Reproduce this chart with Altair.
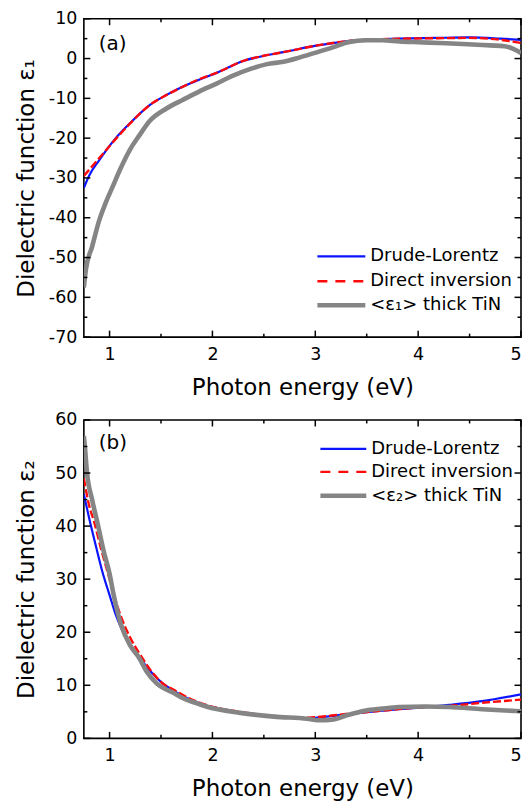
import altair as alt
import pandas as pd

# ---------------- data ----------------
# Panel (a): real part epsilon_1
a_dl_E = [0.75, 0.80, 0.90, 0.96, 1.05, 1.20, 1.39, 1.55, 1.71, 1.87, 2.04, 2.30, 2.50, 2.69, 3.02, 3.32, 3.60, 3.82, 4.20, 4.50, 4.80, 5.00]
a_dl_v = [-32.5, -29.5, -25.5, -23.3, -20.3, -16.2, -11.7, -9.2, -7.1, -5.3, -3.6, -0.6, 0.7, 1.6, 3.3, 4.4, 4.8, 5.0, 5.2, 5.3, 5.0, 4.7]
a_di_E = [0.75, 0.85, 0.95, 1.05, 1.20, 1.39, 1.55, 1.71, 1.87, 2.04, 2.30, 2.50, 2.69, 3.02, 3.32, 3.60, 3.82, 4.20, 4.48, 4.80, 5.00]
a_di_v = [-29.5, -26.5, -23.5, -20.5, -16.3, -11.7, -9.2, -7.1, -5.2, -3.6, -0.6, 0.7, 1.6, 3.3, 4.4, 4.8, 5.0, 5.1, 5.2, 4.7, 3.9]
a_tn_E = [0.75, 0.77, 0.83, 0.90, 0.96, 1.03, 1.10, 1.20, 1.29, 1.39, 1.55, 1.71, 1.87, 2.04, 2.20, 2.37, 2.53, 2.69, 2.85, 3.02, 3.17, 3.32, 3.50, 3.65, 3.82, 4.00, 4.20, 4.48, 4.70, 4.84, 4.92, 5.00]
a_tn_v = [-57.5, -53.0, -47.3, -40.6, -36.4, -32.2, -28.0, -22.8, -19.3, -15.7, -12.6, -10.4, -8.3, -6.3, -4.3, -2.6, -1.4, -0.8, 0.3, 1.6, 2.8, 4.1, 4.6, 4.6, 4.3, 4.1, 3.9, 3.6, 3.3, 3.1, 2.5, 1.4]

# Panel (b): imaginary part epsilon_2
b_dl_E = [0.75, 0.80, 0.87, 0.93, 1.00, 1.06, 1.12, 1.20, 1.30, 1.40, 1.52, 1.62, 1.80, 1.94, 2.20, 2.50, 2.75, 2.92, 3.16, 3.30, 3.48, 3.81, 4.07, 4.30, 4.62, 5.00]
b_dl_v = [46.0, 41.6, 36.0, 31.4, 27.0, 23.3, 20.5, 17.8, 15.0, 12.6, 10.3, 9.0, 7.2, 6.2, 5.1, 4.3, 3.9, 3.8, 4.2, 4.5, 4.9, 5.5, 5.9, 6.3, 7.0, 8.3]
b_di_E = [0.75, 0.80, 0.85, 0.92, 0.98, 1.05, 1.12, 1.20, 1.29, 1.40, 1.52, 1.62, 1.80, 1.94, 2.20, 2.50, 2.75, 2.92, 3.16, 3.30, 3.48, 3.81, 4.07, 4.30, 4.62, 5.00]
b_di_v = [49.0, 44.0, 40.8, 35.5, 31.4, 26.5, 22.5, 19.0, 16.0, 12.8, 10.3, 9.2, 7.3, 6.3, 5.2, 4.4, 4.0, 3.9, 4.3, 4.6, 4.9, 5.5, 5.9, 6.1, 6.7, 7.3]
b_tn_E = [0.75, 0.76, 0.78, 0.83, 0.88, 0.94, 1.00, 1.04, 1.11, 1.20, 1.29, 1.36, 1.46, 1.62, 1.71, 1.85, 1.94, 2.27, 2.60, 2.92, 3.05, 3.16, 3.30, 3.48, 3.65, 3.81, 4.07, 4.30, 4.62, 4.80, 5.00]
b_tn_v = [57.0, 55.0, 50.2, 45.0, 40.8, 35.5, 31.0, 27.0, 21.5, 17.5, 15.1, 12.6, 10.3, 8.6, 7.6, 6.6, 6.0, 4.8, 4.1, 3.7, 3.4, 3.5, 4.3, 5.2, 5.6, 5.9, 6.0, 5.9, 5.5, 5.3, 5.1]

# tick values / labels
x_major = [1, 2, 3, 4, 5]
x_minor = [1.5, 2.5, 3.5, 4.5]
a_y_major = [-70, -60, -50, -40, -30, -20, -10, 0, 10]
a_y_minor = [-65, -55, -45, -35, -25, -15, -5, 5]
b_y_major = [0, 10, 20, 30, 40, 50, 60]
b_y_minor = [5, 15, 25, 35, 45, 55]

a_legend_labels = ["Drude-Lorentz", "Direct inversion", "<ε₁> thick TiN"]
b_legend_labels = ["Drude-Lorentz", "Direct inversion", "<ε₂> thick TiN"]

# ---------------- styling ----------------
FONT = "DejaVu Sans"
W, H = 438, 319
BLUE, RED, GRAY = "#0a14ff", "#ff0a0a", "#858585"
XS = alt.Scale(domain=[0.75, 5], nice=False, zero=False)
MAJ, MIN = 6.5, 3.5

X_AXIS = alt.Axis(values=x_major, title="Photon energy (eV)", labelPadding=8, titlePadding=14)


def y_axis(vals, title):
    return alt.Axis(values=vals, title=title, labelPadding=7, minExtent=36, maxExtent=36,
                    titlePadding=9, labelExpr="replace(datum.label, '\u2212', '-')")


def tick_layers(ys, yax, y_major, y_minor):
    out = []
    for vals, L in [(x_major, MAJ), (x_minor, MIN)]:
        base = alt.Chart(pd.DataFrame({"E": vals})).mark_rule(color="black", strokeWidth=1.5)
        out.append(base.encode(x=alt.X("E:Q", scale=XS, axis=X_AXIS), y=alt.value(H), y2=alt.value(H - L)))
        out.append(base.encode(x=alt.X("E:Q", scale=XS, axis=X_AXIS), y=alt.value(0), y2=alt.value(L)))
    for vals, L in [(y_major, MAJ), (y_minor, MIN)]:
        base = alt.Chart(pd.DataFrame({"v": vals})).mark_rule(color="black", strokeWidth=1.5)
        out.append(base.encode(y=alt.Y("v:Q", scale=ys, axis=yax), x=alt.value(0), x2=alt.value(L)))
        out.append(base.encode(y=alt.Y("v:Q", scale=ys, axis=yax), x=alt.value(W), x2=alt.value(W - L)))
    return out


def panel(series, ydom, y_major, y_minor, ytitle, tag, tag_y, legend_labels, leg_x0, leg_x1, leg_xt, leg_ys):
    ys = alt.Scale(domain=ydom, nice=False, zero=False)
    yax = y_axis(y_major, ytitle)
    styles = [(BLUE, 2.2, None), (RED, 2.4, [8, 3]), (GRAY, 4.6, None)]
    layers = []
    for (E, v), (col, sw, dash) in zip(series, styles):
        mk = dict(color=col, strokeWidth=sw, clip=True, interpolate="monotone")
        if dash:
            mk["strokeDash"] = dash
        layers.append(
            alt.Chart(pd.DataFrame({"E": E, "v": v})).mark_line(**mk)
            .encode(x=alt.X("E:Q", scale=XS, axis=X_AXIS), y=alt.Y("v:Q", scale=ys, axis=yax))
        )

    layers += tick_layers(ys, yax, y_major, y_minor)

    layers.append(
        alt.Chart(pd.DataFrame({"t": [tag]}))
        .mark_text(font=FONT, fontSize=20, align="left", baseline="middle", color="black")
        .encode(x=alt.value(15), y=alt.value(tag_y), text="t:N")
    )

    leg_styles = [(BLUE, 2.2, None), (RED, 2.4, [10, 8]), (GRAY, 4.6, None)]
    for lab, (col, sw, dash), yy in zip(legend_labels, leg_styles, leg_ys):
        mk = dict(color=col, strokeWidth=sw)
        if dash:
            mk["strokeDash"] = dash
        d = pd.DataFrame({"s": [lab]})
        layers.append(alt.Chart(d).mark_rule(**mk).encode(x=alt.value(leg_x0), x2=alt.value(leg_x1), y=alt.value(yy)))
        layers.append(alt.Chart(d).mark_text(font=FONT, fontSize=18, align="left", baseline="middle", color="black")
                      .encode(x=alt.value(leg_xt), y=alt.value(yy), text="s:N"))

    return alt.layer(*layers).properties(width=W, height=H)


pa = panel([(a_dl_E, a_dl_v), (a_di_E, a_di_v), (a_tn_E, a_tn_v)], [-70, 10], a_y_major, a_y_minor,
           "Dielectric function ε₁", "(a)", 25, a_legend_labels, 234, 282, 287, [238, 263, 287])
pb = panel([(b_dl_E, b_dl_v), (b_di_E, b_di_v), (b_tn_E, b_tn_v)], [0, 60], b_y_major, b_y_minor,
           "Dielectric function ε₂", "(b)", 23, b_legend_labels, 237, 283, 288, [29, 52, 76])

chart = (
    alt.vconcat(pa, pb, spacing=9)
    .configure_view(stroke="black", strokeWidth=1.6)
    .configure_axis(labelFont=FONT, titleFont=FONT, labelColor="black", titleColor="black",
                    domain=False, ticks=False, grid=False, labelFontSize=17.5, titleFontSize=23,
                    titleFontWeight="normal")
    .properties(padding={"left": 7, "top": 0, "right": 0, "bottom": 0}, background="white")
)

chart.save("out.html", embed_options={"renderer": "svg", "actions": False})
